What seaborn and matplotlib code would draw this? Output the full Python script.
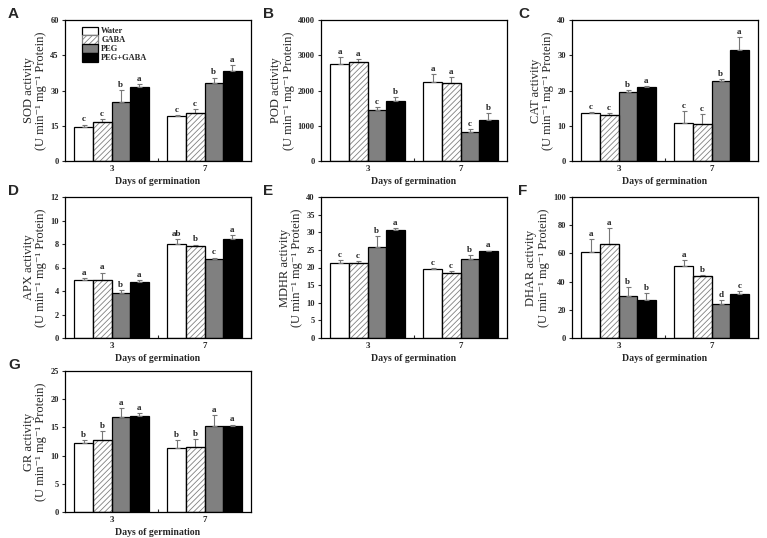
import matplotlib
matplotlib.use("Agg")
import matplotlib.pyplot as plt
import numpy as np
import pandas as pd
import seaborn as sns
from matplotlib.patches import Rectangle

# ---------------- data ----------------
days = ["3", "7"]
treatments = ["Water", "GABA", "PEG", "PEG+GABA"]
bar_colors = ["#ffffff", "#ffffff", "#808080", "#000000"]

panel_ids = ["A", "B", "C", "D", "E", "F", "G"]
enzymes = ["SOD", "POD", "CAT", "APX", "MDHR", "DHAR", "GR"]

sod_d3 = [14.5, 16.5, 25.2, 31.5]
sod_d7 = [19.0, 20.5, 33.0, 38.5]
sod_e3 = [1.0, 1.2, 5.0, 1.2]
sod_e7 = [0.7, 1.5, 2.5, 2.3]
sod_l3 = ["c", "c", "b", "a"]
sod_l7 = ["c", "c", "b", "a"]

pod_d3 = [2750, 2800, 1450, 1700]
pod_d7 = [2230, 2200, 830, 1170]
pod_e3 = [200, 100, 80, 120]
pod_e7 = [230, 170, 70, 200]
pod_l3 = ["a", "a", "c", "b"]
pod_l7 = ["a", "a", "c", "b"]

cat_d3 = [13.7, 13.1, 19.5, 21.1]
cat_d7 = [10.9, 10.4, 22.6, 31.6]
cat_e3 = [0.3, 0.4, 0.6, 0.2]
cat_e7 = [3.2, 2.8, 0.7, 3.5]
cat_l3 = ["c", "c", "b", "a"]
cat_l7 = ["c", "c", "b", "a"]

apx_d3 = [4.95, 4.97, 3.85, 4.8]
apx_d7 = [8.0, 7.8, 6.7, 8.45]
apx_e3 = [0.15, 0.6, 0.2, 0.15]
apx_e7 = [0.4, 0.15, 0.15, 0.3]
apx_l3 = ["a", "a", "b", "a"]
apx_l7 = ["ab", "b", "c", "a"]

mdhr_d3 = [21.2, 21.4, 25.8, 30.6]
mdhr_d7 = [19.6, 18.3, 22.5, 24.6]
mdhr_e3 = [1.0, 0.5, 3.0, 0.5]
mdhr_e7 = [0.2, 0.8, 1.0, 0.2]
mdhr_l3 = ["c", "c", "b", "a"]
mdhr_l7 = ["c", "c", "b", "a"]

dhar_d3 = [61, 67, 30, 27]
dhar_d7 = [51, 44, 24, 31]
dhar_e3 = [9, 11, 6, 5]
dhar_e7 = [4, 0.5, 3, 2.5]
dhar_l3 = ["a", "a", "b", "b"]
dhar_l7 = ["a", "b", "d", "c"]

gr_d3 = [12.3, 12.7, 16.9, 17.0]
gr_d7 = [11.4, 11.5, 15.2, 15.3]
gr_e3 = [0.5, 1.7, 1.5, 0.6]
gr_e7 = [1.3, 1.5, 2.0, 0.2]
gr_l3 = ["b", "b", "a", "a"]
gr_l7 = ["b", "b", "a", "a"]

y_ticks = {
    "SOD": [0, 15, 30, 45, 60],
    "POD": [0, 1000, 2000, 3000, 4000],
    "CAT": [0, 10, 20, 30, 40],
    "APX": [0, 2, 4, 6, 8, 10, 12],
    "MDHR": [0, 5, 10, 15, 20, 25, 30, 35, 40],
    "DHAR": [0, 20, 40, 60, 80, 100],
    "GR": [0, 5, 10, 15, 20, 25],
}

panel_data = {
    "SOD": (sod_d3, sod_d7, sod_e3, sod_e7, sod_l3, sod_l7),
    "POD": (pod_d3, pod_d7, pod_e3, pod_e7, pod_l3, pod_l7),
    "CAT": (cat_d3, cat_d7, cat_e3, cat_e7, cat_l3, cat_l7),
    "APX": (apx_d3, apx_d7, apx_e3, apx_e7, apx_l3, apx_l7),
    "MDHR": (mdhr_d3, mdhr_d7, mdhr_e3, mdhr_e7, mdhr_l3, mdhr_l7),
    "DHAR": (dhar_d3, dhar_d7, dhar_e3, dhar_e7, dhar_l3, dhar_l7),
    "GR": (gr_d3, gr_d7, gr_e3, gr_e7, gr_l3, gr_l7),
}

# ---------------- style ----------------
sns.set_theme(style="ticks")
plt.rcParams["font.family"] = ["Liberation Serif", "DejaVu Serif"]
plt.rcParams["hatch.linewidth"] = 0.6

W, H = 767, 538
fig = plt.figure(figsize=(W / 100, H / 100), dpi=100)

col_left = [65, 321, 572]
row_top = [20, 197, 371]
ax_w, ax_h = 186, 141

positions = [(0, 0), (0, 1), (0, 2), (1, 0), (1, 1), (1, 2), (2, 0)]
letter_x = [8, 263, 518]

for pid, enz, (r, c) in zip(panel_ids, enzymes, positions):
    d3, d7, e3, e7, l3, l7 = panel_data[enz]
    left = col_left[c]
    top = row_top[r]
    ax = fig.add_axes([left / W, 1 - (top + ax_h) / H, ax_w / W, ax_h / H])

    df = pd.DataFrame({
        "day": [days[0]] * 4 + [days[1]] * 4,
        "treatment": treatments * 2,
        "value": list(d3) + list(d7),
    })
    errs = {(days[0], t): e for t, e in zip(treatments, e3)}
    errs.update({(days[1], t): e for t, e in zip(treatments, e7)})
    lets = {(days[0], t): l for t, l in zip(treatments, l3)}
    lets.update({(days[1], t): l for t, l in zip(treatments, l7)})

    sns.barplot(data=df, x="day", y="value", hue="treatment", order=days,
                hue_order=treatments, palette=bar_colors, saturation=1,
                edgecolor="black", linewidth=0.9, errorbar=None, width=0.8,
                legend=False, ax=ax)

    bars = [p for p in ax.patches if isinstance(p, Rectangle)]
    bars = sorted(bars, key=lambda p: p.get_x())
    ymax = y_ticks[enz][-1]
    handles = []
    for i, p in enumerate(bars):
        g = i // 4
        t = treatments[i % 4]
        key = (days[g], t)
        xc = p.get_x() + p.get_width() / 2
        h = p.get_height()
        if t == "GABA":
            p.set_hatch("//////")
            if hasattr(p, "set_hatchcolor"):
                p.set_hatchcolor("#808080")
                p.set_edgecolor("black")
            else:
                p.set_edgecolor("#808080")
                ax.add_patch(Rectangle((p.get_x(), p.get_y()), p.get_width(), h,
                                       fill=False, edgecolor="black", linewidth=0.9,
                                       zorder=p.get_zorder() + 0.1))
        e = errs[key]
        ax.errorbar(xc, h, yerr=[[0], [e]], fmt="none", ecolor="#777777",
                    elinewidth=0.8, capsize=1.8, capthick=0.8, zorder=1)
        ax.text(xc, h + e + ymax * 0.008, lets[key], ha="center", va="bottom",
                fontsize=6.5, fontweight="bold", color="#222222")
        if g == 0:
            handles.append(p)

    ax.set_xlim(-0.5, 1.5)
    ax.set_ylim(0, ymax)
    ax.set_yticks(y_ticks[enz])
    ax.set_yticklabels([str(v) for v in y_ticks[enz]], fontsize=6, fontweight="bold")
    ax.set_xticks([0, 1])
    ax.set_xticklabels(days, fontsize=6.5, fontweight="bold")
    ax.set_xticks([0.5], minor=True)
    ax.tick_params(axis="x", which="major", length=0, pad=3)
    ax.tick_params(axis="x", which="minor", direction="in", length=2.5, width=0.8)
    ax.tick_params(axis="y", which="major", direction="out", length=2.5, width=0.8, pad=2)
    for s in ax.spines.values():
        s.set_visible(True)
        s.set_linewidth(0.9)
        s.set_color("black")
    ax.set_xlabel("Days of germination", fontsize=7, fontweight="bold", labelpad=3)
    ax.set_ylabel(f"{enz} activity\n(U min\u207b\u00b9 mg\u207b\u00b9 Protein)",
                  fontsize=9, labelpad=2, linespacing=1.1)

    if pid == "A":
        ax.legend(handles, treatments, loc="upper left", bbox_to_anchor=(0.06, 0.995),
                  frameon=False, handlelength=1.9, handleheight=1.15,
                  labelspacing=0.0, borderpad=0.2, handletextpad=0.4,
                  prop={"family": ["Liberation Serif"], "size": 6, "weight": "bold"})

    fig.text(letter_x[c] / W, 1 - (top - 6) / H, pid, ha="left", va="center",
             fontsize=11, fontweight="bold", family=["Liberation Sans", "DejaVu Sans"])

fig.savefig("out.png", dpi=100)
